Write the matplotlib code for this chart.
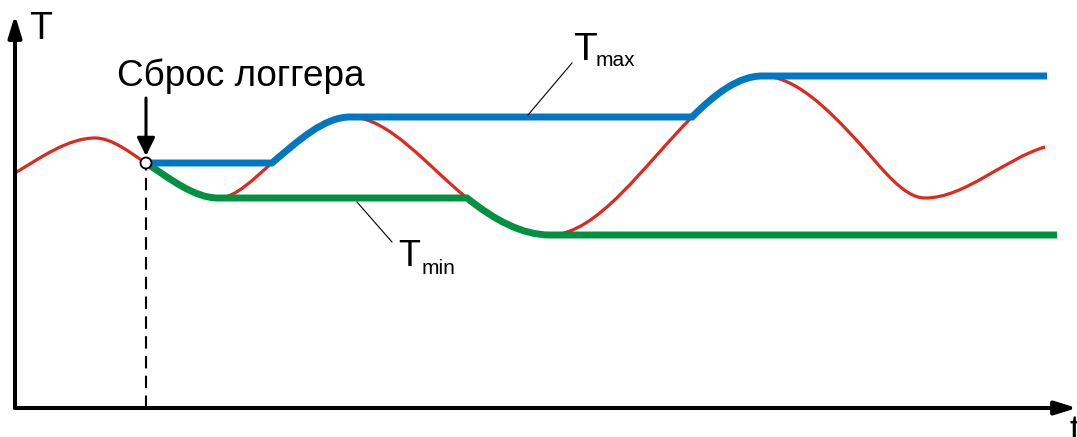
import matplotlib.pyplot as plt
from matplotlib.path import Path
from matplotlib.patches import PathPatch, FancyArrowPatch, Circle, ArrowStyle

plt.rcParams['font.family'] = ['Liberation Sans', 'DejaVu Sans']

# key points of the temperature curve (t, T) and its slope at each point
curve_t = [15, 95, 146, 218, 272, 350, 467, 550, 692, 762, 860, 925, 1045]
curve_T = [264, 299, 274, 239, 274, 320, 239, 202, 320, 361, 293, 239, 290]
curve_slope = [0.6, 0, -0.65, 0, 0.85, 0, -0.8, 0, 1.0, 0, -1.1, 0, 0.29]

reset_idx = 2        # logger reset happens at this point of the curve
tmax_rise = [4, 8]   # curve pieces where T max follows the curve up
tmin_fall = [2, 6]   # curve pieces where T min follows the curve down
tmax_end = 1047
tmin_end = 1057

RED = "#dc2a1f"
BLUE = "#0078c1"
GREEN = "#00923f"


def piece(i):
    # cubic bezier from point i to point i+1
    t0, t1 = curve_t[i], curve_t[i + 1]
    T0, T1 = curve_T[i], curve_T[i + 1]
    dx = t1 - t0
    c1 = (t0 + dx / 3, T0 + curve_slope[i] * dx / 3)
    c2 = (t1 - dx / 3, T1 - curve_slope[i + 1] * dx / 3)
    return [c1, c2, (t1, T1)], [Path.CURVE4] * 3


def hold_path(pieces, t_end):
    # running extreme: flat parts joined with the followed curve pieces
    verts = [(curve_t[reset_idx], curve_T[reset_idx])]
    codes = [Path.MOVETO]
    for i in pieces:
        if curve_t[i] > verts[-1][0]:
            verts.append((curve_t[i], verts[-1][1]))
            codes.append(Path.LINETO)
        v, c = piece(i)
        verts += v
        codes += c
    verts.append((t_end, verts[-1][1]))
    codes.append(Path.LINETO)
    return Path(verts, codes)


fig = plt.figure(figsize=(10.77, 4.37), dpi=100)
ax = fig.add_axes([0, 0, 1, 1])
ax.set_xlim(0, 1077)
ax.set_ylim(0, 437)
ax.axis("off")

# temperature
verts = [(curve_t[0], curve_T[0])]
codes = [Path.MOVETO]
for i in range(len(curve_t) - 1):
    v, c = piece(i)
    verts += v
    codes += c
ax.add_patch(PathPatch(Path(verts, codes), fill=False, ec=RED, lw=2.3, zorder=2))

# T min / T max
ax.add_patch(PathPatch(hold_path(tmin_fall, tmin_end), fill=False, ec=GREEN, lw=5,
                       capstyle="butt", joinstyle="miter", zorder=3))
ax.add_patch(PathPatch(hold_path(tmax_rise, tmax_end), fill=False, ec=BLUE, lw=5,
                       capstyle="butt", joinstyle="miter", zorder=4))

# axes with arrows
axis_style = ArrowStyle("-|>", head_length=13, head_width=4)
ax.add_patch(FancyArrowPatch((15, 29), (15, 422), arrowstyle=axis_style, mutation_scale=1,
                             lw=2.9, color="black", shrinkA=0, shrinkB=0, zorder=5))
ax.add_patch(FancyArrowPatch((15, 29), (1077, 29), arrowstyle=axis_style, mutation_scale=1,
                             lw=2.9, color="black", shrinkA=0, shrinkB=0, zorder=5))
ax.text(29, 398, "T", fontsize=27, ha="left", va="baseline")
ax.text(1069, 23, "t", fontsize=26, ha="left", va="top")

# logger reset
rt, rT = curve_t[reset_idx], curve_T[reset_idx]
ax.plot([rt, rt], [29, rT - 6], color="black", lw=1.5, dashes=(6, 3.5), zorder=5)
ax.add_patch(FancyArrowPatch((rt, 339), (rt, rT + 7),
                             arrowstyle=ArrowStyle("-|>", head_length=11, head_width=5.4),
                             mutation_scale=1, lw=2.2, color="black",
                             shrinkA=0, shrinkB=0, zorder=6))
ax.add_patch(Circle((rt, rT), 5.5, fc="white", ec="black", lw=1.3, zorder=7))
ax.text(117, 351, "Сброс логгера", fontsize=26.6, ha="left", va="baseline")

# labels with leader lines
ax.plot([528, 572], [322, 374], color="black", lw=0.8, zorder=5)
ax.text(573, 377, "T", fontsize=28, ha="left", va="baseline")
ax.text(596, 371, "max", fontsize=15, ha="left", va="baseline")

ax.plot([357, 392], [235, 195], color="black", lw=0.8, zorder=5)
ax.text(398, 171, "T", fontsize=26, ha="left", va="baseline")
ax.text(422, 163, "min", fontsize=15, ha="left", va="baseline")

fig.savefig("out.png", dpi=100)
